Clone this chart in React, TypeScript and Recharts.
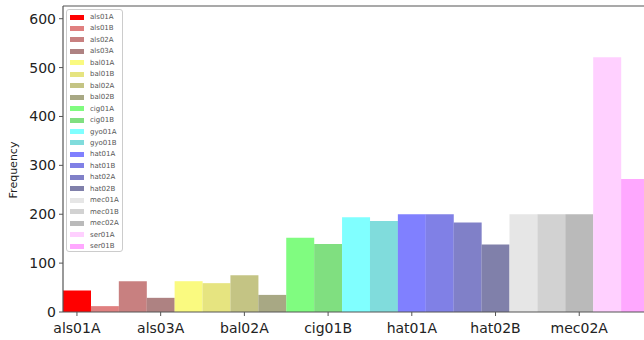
import React from 'react';
import { BarChart, Bar, Cell, XAxis, YAxis, Legend, ReferenceLine } from 'recharts';

const categories = [
  'als01A', 'als01B', 'als02A', 'als03A',
  'bal01A', 'bal01B', 'bal02A', 'bal02B',
  'cig01A', 'cig01B', 'gyo01A', 'gyo01B',
  'hat01A', 'hat01B', 'hat02A', 'hat02B',
  'mec01A', 'mec01B', 'mec02A', 'ser01A', 'ser01B',
];

const frequencies = [
  44, 12, 63, 29,
  63, 59, 75, 35,
  152, 139, 194, 186,
  200, 200, 183, 138,
  200, 200, 200, 521, 272,
];

const barColors = [
  '#ff0000', '#e08080', '#c88080', '#ae8282',
  '#fafa80', '#e6e480', '#c4c484', '#a8a884',
  '#80fc80', '#80df80', '#80ffff', '#80dcdc',
  '#8080ff', '#8080e6', '#8080c8', '#8080aa',
  '#e6e6e6', '#d2d2d2', '#bababa', '#ffd0ff', '#ffa8ff',
];

const yTicks = [0, 100, 200, 300, 400, 500, 600];
const yMax = 626;

const data = categories.map((name, i) => ({ name, value: frequencies[i] }));

const FONT = '"DejaVu Sans", sans-serif';
const SPINE = '#555555';

function SampleLegend() {
  return (
    <div
      style={{
        width: 57,
        height: 243,
        boxSizing: 'border-box',
        border: '1px solid #cccccc',
        borderRadius: 3,
        background: 'rgba(255,255,255,0.85)',
        position: 'relative',
        fontFamily: FONT,
      }}
    >
      {categories.map((name, i) => (
        <div
          key={name}
          style={{
            position: 'absolute',
            left: 3,
            top: 3 + i * 11.45,
            height: 8,
            display: 'flex',
            alignItems: 'center',
          }}
        >
          <div style={{ width: 14, height: 5, background: barColors[i] }} />
          <span style={{ marginLeft: 6, fontSize: 7, color: '#555555', lineHeight: '8px' }}>{name}</span>
        </div>
      ))}
    </div>
  );
}

function FrequencyLabel() {
  return (
    <text
      x={13}
      y={170}
      transform="rotate(-90 13 170)"
      textAnchor="middle"
      dominantBaseline="central"
      fontFamily={FONT}
      fontSize={11}
      fill="#222222"
    >
      Frequency
    </text>
  );
}

export default function App() {
  return (
    <div style={{ position: 'fixed', left: 0, top: 0, width: 644, height: 340, overflow: 'hidden', background: '#ffffff' }}>
      <BarChart
        width={700}
        height={340}
        data={data}
        margin={{ top: 6, right: 51, bottom: 0, left: 0 }}
        barCategoryGap={0}
        barGap={0}
      >
        <XAxis
          dataKey="name"
          interval={2}
          height={28}
          tickSize={4}
          tickMargin={7}
          axisLine={{ stroke: SPINE, strokeWidth: 1.2 }}
          tickLine={{ stroke: SPINE }}
          tick={{ fontFamily: FONT, fontSize: 14, fill: '#222222' }}
        />
        <YAxis
          width={63}
          domain={[0, yMax]}
          ticks={yTicks}
          tickSize={4}
          tickMargin={3}
          axisLine={{ stroke: SPINE, strokeWidth: 1.2 }}
          tickLine={{ stroke: SPINE }}
          tick={{ fontFamily: FONT, fontSize: 14, fill: '#222222' }}
          label={<FrequencyLabel />}
        />
        <ReferenceLine y={yMax} stroke={SPINE} strokeWidth={1.2} />
        <Bar dataKey="value" isAnimationActive={false}>
          {data.map((d, i) => (
            <Cell key={d.name} fill={barColors[i]} />
          ))}
        </Bar>
        <Legend
          layout="vertical"
          align="center"
          verticalAlign="middle"
          content={<SampleLegend />}
          wrapperStyle={{ position: 'absolute', left: 66, top: 9, width: 57, height: 243 }}
        />
      </BarChart>
    </div>
  );
}
